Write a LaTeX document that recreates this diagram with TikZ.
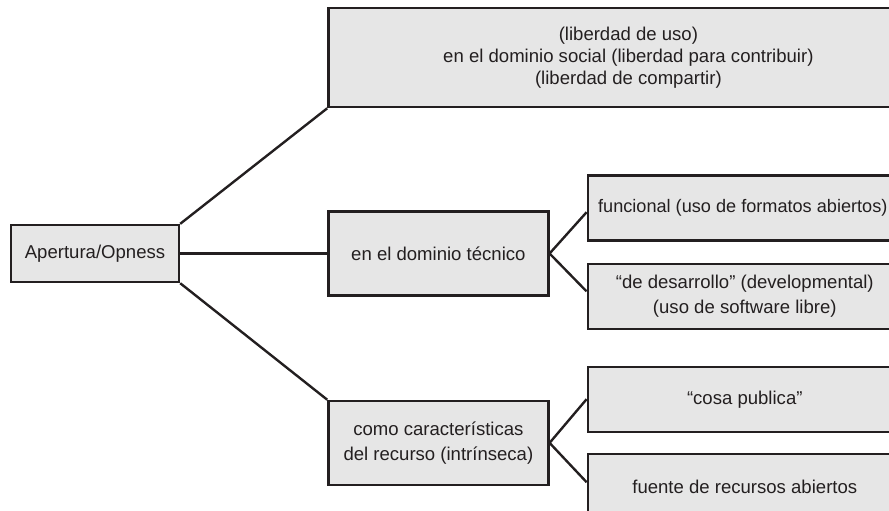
\documentclass[tikz,border=0pt]{standalone}
\usepackage{fontspec}
\setmainfont{Liberation Sans}
\usetikzlibrary{positioning}
\definecolor{ink}{RGB}{35,31,32}
\definecolor{boxgray}{RGB}{230,230,230}

\begin{document}
\begin{tikzpicture}[
    node distance=1cm,
    topic/.style={rectangle, draw=ink, fill=boxgray, line width=1.7pt, align=center, text=ink, inner sep=0pt, font=\fontsize{13.2}{15.6}\selectfont},
    leaf/.style={topic, minimum width=7.85cm, minimum height=1.625cm},
    twoline/.style={font=\fontsize{13.2}{17.8}\selectfont},
    branch/.style={draw=ink, line width=1.7pt}
]

% Frame
\useasboundingbox (0,0) rectangle (22.225,-12.75);
\clip (0,0) rectangle (22.225,-12.75);

% Root
\node[topic, minimum width=4.2cm, minimum height=1.425cm] (ap) at (2.375,-6.3375) {Apertura/Opness};

% Three domains
\node[topic, minimum width=5.5cm, minimum height=2.1cm, right=3.675cm of ap] (tec) {en el dominio técnico};
\node[topic, minimum width=15cm, minimum height=2.475cm, above right=2.55cm and 0cm of tec.north west] (soc) {(liberdad de uso)\\en el dominio social (liberdad para contribuir)\\(liberdad de compartir)};
\node[topic, twoline, minimum width=5.5cm, minimum height=2.1cm, below=2.575cm of tec] (rec) {como características\\del recurso (intrínseca)};

% Technical leaves
\node[leaf, minimum width=7.75cm, font=\fontsize{12.9}{15.6}\selectfont, above right=0.3cm and 0.925cm of tec.east] (fun) {funcional (uso de formatos abiertos)};
\node[leaf, twoline, below right=0.225cm and 0.925cm of tec.east] (des) {“de desarrollo” (developmental)\\(uso de software libre)};

% Resource leaves
\node[leaf, above right=0.25cm and 0.925cm of rec.east] (cosa) {“cosa publica”};
\node[leaf, below right=0.25cm and 0.925cm of rec.east] (fue) {fuente de recursos abiertos};

% Lines
\draw[branch] (ap.north east) -- (soc.south west);
\draw[branch] (ap.east) -- (tec.west);
\draw[branch] (ap.south east) -- (rec.north west);
\draw[branch] (tec.east) -- ([yshift=-1.1mm]fun.west);
\draw[branch] (tec.east) -- ([yshift=1.2mm]des.west);
\draw[branch] (rec.east) -- (cosa.west);
\draw[branch] (rec.east) -- ([yshift=1.1mm]fue.west);

\end{tikzpicture}
\end{document}
